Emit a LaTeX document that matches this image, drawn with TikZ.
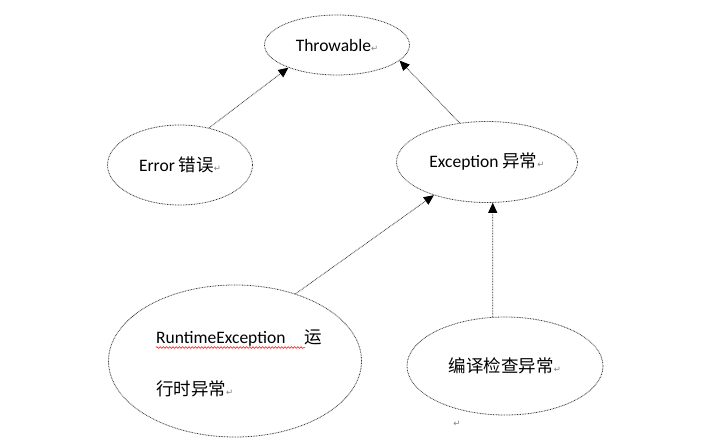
\documentclass[tikz,border=0pt]{standalone}
\usepackage{fontspec}
\setmainfont{Carlito}
\newfontfamily\cjk{Noto Sans CJK SC}
\newfontfamily\symf{DejaVu Sans}
\usetikzlibrary{shapes.geometric,arrows.meta,decorations.pathmorphing}
\newcommand{\ret}{{\symf\fontsize{8.5}{8.5}\selectfont\color{gray}↵}}
\tikzset{
  ell/.style={ellipse, draw=gray!45!black, line width=0.8pt,
    dash pattern=on 0.8pt off 0.8pt, inner sep=0pt,
    font=\fontsize{17.5}{20}\selectfont},
  txt/.style={inner sep=0pt, font=\fontsize{17.5}{20}\selectfont},
  link/.style={draw=gray!45!black, line width=0.8pt,
    dash pattern=on 0.8pt off 0.8pt,
    -{Triangle[length=10pt,width=9pt,color=black]}}
}
\begin{document}
\begin{tikzpicture}[x=1pt,y=-1pt]
\useasboundingbox[fill=white] (0,0) rectangle (704,441);
\node[ell, minimum width=145pt, minimum height=60pt] (thr) at (337,45) {Throwable\ret};
\node[ell, minimum width=145pt, minimum height=80pt] (err) at (180,165) {Error {\cjk 错误}\ret};
\node[ell, minimum width=181pt, minimum height=81pt] (exc) at (487,162) {Exception {\cjk 异常}\ret};
\node[ell, minimum width=253pt, minimum height=152pt] (rt) at (235,361) {};
\node[ell, minimum width=196pt, minimum height=98pt] (chk) at (505,366) {{\cjk 编译检查异常}\ret};
\node[txt, anchor=base west] (rt1) at (156,343) {RuntimeException};
\node[txt, anchor=base west] (rt2) at (304,343) {\cjk 运};
\node[txt, anchor=base west] (rt3) at (156,395) {{\cjk 行时异常}\ret};
\node[inner sep=0pt] (pm) at (457,424) {\ret};
\draw[red, line width=0.5pt, decorate, decoration={snake, segment length=3.2pt, amplitude=0.9pt}]
  ([yshift=-4.5pt]rt1.base west) -- ([yshift=-4.5pt,xshift=149pt]rt1.base west);
\draw[link] (err.52) -- (thr.205);
\draw[link] (exc.125) -- (thr.346);
\draw[link] (rt.48) -- (exc.212);
\draw[link] (chk.104) -- (exc.278);
\end{tikzpicture}
\end{document}
